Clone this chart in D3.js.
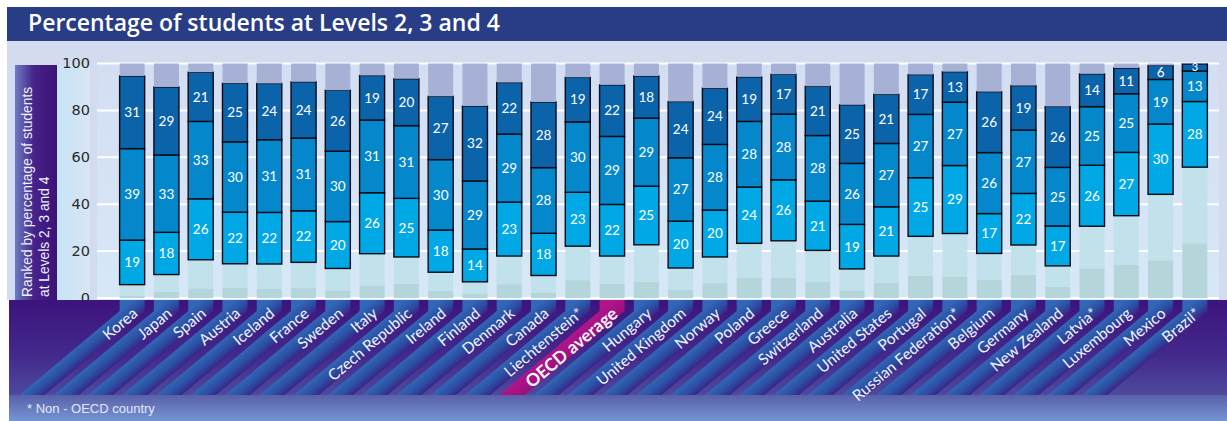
<!DOCTYPE html>
<html>
<head>
<meta charset="utf-8">
<script src="https://cdn.jsdelivr.net/npm/d3@7"></script>
<style>
  html, body { margin: 0; padding: 0; background: #ffffff; }
  svg { display: block; }
</style>
</head>
<body>
<svg id="chart" width="1227" height="421"></svg>
<script>
// Countries ranked by the share of students at reading Levels 2, 3 and 4
const countries = [
  "Korea", "Japan", "Spain", "Austria", "Iceland", "France", "Sweden", "Italy",
  "Czech Republic", "Ireland", "Finland", "Denmark", "Canada", "Liechtenstein*",
  "OECD average", "Hungary", "United Kingdom", "Norway", "Poland", "Greece",
  "Switzerland", "Australia", "United States", "Portugal", "Russian Federation*",
  "Belgium", "Germany", "New Zealand", "Latvia*", "Luxembourg", "Mexico", "Brazil*"
];

// Percentages of students per proficiency level
const belowLevel1 = [0.9, 2.7, 4.1, 4.4, 4.0, 4.2, 3.3, 5.4, 6.1, 3.1, 1.7, 5.9, 2.4, 7.6,
  6.0, 6.9, 3.6, 6.3, 8.7, 8.7, 7.0, 3.3, 6.4, 9.6, 9.0, 7.7, 9.9, 4.8, 12.7, 14.2, 16.1, 23.3];
const level1 = [4.8, 7.3, 12.2, 10.2, 10.5, 11.0, 9.3, 13.5, 11.4, 7.9, 5.2, 12.0, 7.2, 14.5,
  11.9, 15.8, 9.2, 11.2, 14.6, 15.7, 13.3, 9.1, 11.5, 16.7, 18.5, 11.3, 12.7, 8.9, 17.9, 20.9, 28.1, 32.5];
const level2 = [19, 18, 26, 22, 22, 22, 20, 26, 25, 18, 14, 23, 18, 23,
  22, 25, 20, 20, 24, 26, 21, 19, 21, 25, 29, 17, 22, 17, 26, 27, 30, 28];
const level3 = [39, 33, 33, 30, 31, 31, 30, 31, 31, 30, 29, 29, 28, 30,
  29, 29, 27, 28, 28, 28, 28, 26, 27, 27, 27, 26, 27, 25, 25, 25, 19, 13];
const level4 = [31, 29, 21, 25, 24, 24, 26, 19, 20, 27, 32, 22, 28, 19,
  22, 18, 24, 24, 19, 17, 21, 25, 21, 17, 13, 26, 19, 26, 14, 11, 6, 3];
const level5 = [5.3, 10.0, 3.7, 8.4, 8.5, 7.8, 11.4, 5.1, 6.5, 14.0, 18.1, 8.1, 16.4, 5.9,
  9.1, 5.3, 16.2, 10.5, 5.7, 4.6, 9.7, 17.6, 13.1, 4.7, 3.5, 12.0, 9.4, 18.3, 4.4, 1.9, 0.8, 0.2];

const yTicks = [0, 20, 40, 60, 80, 100];
const highlighted = "OECD average";

const levelKeys = ["belowLevel1", "level1", "level2", "level3", "level4", "level5"];
const levelColors = {
  belowLevel1: "#b4d5d9",
  level1: "#c1e2ea",
  level2: "#00a9e6",
  level3: "#0588cb",
  level4: "#0b63aa",
  level5: "#a7b1d5"
};
const boxedKeys = ["level2", "level3", "level4"];

const rows = countries.map((c, i) => ({
  country: c,
  belowLevel1: belowLevel1[i], level1: level1[i],
  level2: level2[i], level3: level3[i], level4: level4[i], level5: level5[i]
}));

const W = 1227, H = 421;
const svg = d3.select("#chart");
const defs = svg.append("defs");

// Frame geometry
const frameLeft = 7, frameRight = W;
const plotTop = 63.5, plotBottom = 298;
const axisBandTop = 300, axisBandBottom = 395;

const y = d3.scaleLinear().domain([0, 100]).range([plotBottom, plotTop]);
const x = d3.scaleBand().domain(countries).range([115, 1212])
  .paddingInner(0.27).paddingOuter(0.135);

// ---- Backgrounds ----
svg.append("rect").attr("x", frameLeft).attr("y", 41).attr("width", frameRight - frameLeft)
  .attr("height", axisBandTop - 41).attr("fill", "#d3dbee");

const plotGrad = defs.append("linearGradient").attr("id", "plotGrad")
  .attr("x1", 0).attr("x2", 0).attr("y1", 0).attr("y2", 1);
plotGrad.append("stop").attr("offset", 0).attr("stop-color", "#d4def2");
plotGrad.append("stop").attr("offset", 1).attr("stop-color", "#d6e8f8");
svg.append("rect").attr("x", 97).attr("y", plotTop).attr("width", 1219 - 97)
  .attr("height", axisBandTop - plotTop).attr("fill", "url(#plotGrad)");

// Title bar
svg.append("rect").attr("x", frameLeft).attr("y", 7).attr("width", frameRight - frameLeft)
  .attr("height", 34).attr("fill", "#283d86");
const title = svg.append("text").attr("x", 28).attr("y", 31)
  .attr("font-family", "'Open Sans', 'Liberation Sans', sans-serif")
  .attr("font-weight", 600).attr("font-size", 20).attr("fill", "#ffffff")
  .text("Percentage of students at Levels 2, 3 and 4");
const titleLen = title.node().getComputedTextLength();
if (titleLen > 0) title.attr("font-size", Math.min(23, 20 * 485 / titleLen));

// Axis title panel
const panelGrad = defs.append("linearGradient").attr("id", "panelGrad")
  .attr("x1", 0).attr("x2", 1).attr("y1", 0).attr("y2", 0);
panelGrad.append("stop").attr("offset", 0).attr("stop-color", "#6c7cc0");
panelGrad.append("stop").attr("offset", 0.45).attr("stop-color", "#46228a");
panelGrad.append("stop").attr("offset", 1).attr("stop-color", "#3c1276");
svg.append("rect").attr("x", 15).attr("y", 65).attr("width", 42).attr("height", 236)
  .attr("fill", "url(#panelGrad)");

const stripGrad = defs.append("linearGradient").attr("id", "stripGrad")
  .attr("x1", 0).attr("x2", 1).attr("y1", 0).attr("y2", 0);
stripGrad.append("stop").attr("offset", 0).attr("stop-color", "#c6e4f8");
stripGrad.append("stop").attr("offset", 1).attr("stop-color", "#d8e5f4");
svg.append("rect").attr("x", 57).attr("y", 65).attr("width", 33).attr("height", 236)
  .attr("fill", "url(#stripGrad)");

const axisTitle = svg.append("text")
  .attr("transform", "translate(32,297) rotate(-90)")
  .attr("font-family", "'Liberation Sans', Arial, sans-serif")
  .attr("font-size", 13.8).attr("fill", "#eef0fa");
axisTitle.append("tspan").attr("x", 0).attr("y", 0).text("Ranked by percentage of students");
axisTitle.append("tspan").attr("x", 0).attr("y", 17).text("at Levels 2, 3 and 4");

// ---- Y axis: gridlines and tick labels ----
const yAxis = d3.axisLeft(y).tickValues(yTicks).tickSize(0).tickPadding(0);
const yAxisG = svg.append("g").attr("transform", "translate(90,0)").call(yAxis);
yAxisG.select(".domain").remove();
yAxisG.selectAll("text")
  .attr("font-family", "'DejaVu Sans', Verdana, sans-serif")
  .attr("font-size", 14.5).attr("fill", "#2a2a2a").attr("dy", "0.3em");

svg.append("g").selectAll("line").data(yTicks).join("line")
  .attr("x1", 97).attr("x2", 1219)
  .attr("y1", d => y(d)).attr("y2", d => y(d))
  .attr("stroke", "#ffffff").attr("stroke-width", 2);

// ---- Stacked bars ----
const series = d3.stack().keys(levelKeys)(rows);
const bw = x.bandwidth();

const layers = svg.append("g").selectAll("g").data(series).join("g")
  .attr("fill", d => levelColors[d.key]);

layers.selectAll("rect").data(d => d.map(v => ({ key: d.key, v }))).join("rect")
  .attr("x", d => x(d.v.data.country))
  .attr("width", bw)
  .attr("y", d => d.key === "level5" ? y(100) : y(d.v[1]))
  .attr("height", d => d.key === "level5" ? y(d.v[0]) - y(100) : y(d.v[0]) - y(d.v[1]))
  .attr("stroke", d => boxedKeys.includes(d.key) ? "#0a0a14" : "none")
  .attr("stroke-width", 1.4);

// Value labels for levels 2, 3 and 4
const labelG = svg.append("g")
  .attr("font-family", "Lato, 'Open Sans', sans-serif")
  .attr("font-size", 13.5).attr("fill", "#ffffff").attr("text-anchor", "middle");
series.filter(s => boxedKeys.includes(s.key)).forEach(s => {
  labelG.selectAll(null).data(s).join("text")
    .attr("x", d => x(d.data.country) + bw / 2)
    .attr("y", d => (y(d[0]) + y(d[1])) / 2)
    .attr("dy", "0.36em")
    .attr("font-size", d => (d[1] - d[0]) < 5 ? 11 : 13.5)
    .text(d => d.data[s.key]);
});

// ---- Category band with slanted ribbons ----
const bandGrad = defs.append("linearGradient").attr("id", "bandGrad")
  .attr("x1", 0).attr("x2", 0).attr("y1", 0).attr("y2", 1);
bandGrad.append("stop").attr("offset", 0).attr("stop-color", "#3d137c");
bandGrad.append("stop").attr("offset", 0.6).attr("stop-color", "#432a8c");
bandGrad.append("stop").attr("offset", 1).attr("stop-color", "#4d4a9e");
svg.append("rect").attr("x", 9).attr("y", axisBandTop).attr("width", W - 9)
  .attr("height", axisBandBottom - axisBandTop).attr("fill", "url(#bandGrad)");

const footGrad = defs.append("linearGradient").attr("id", "footGrad")
  .attr("x1", 0).attr("x2", 0).attr("y1", 0).attr("y2", 1);
footGrad.append("stop").attr("offset", 0).attr("stop-color", "#5960a8");
footGrad.append("stop").attr("offset", 1).attr("stop-color", "#7595d4");
svg.append("rect").attr("x", 9).attr("y", axisBandBottom).attr("width", W - 9)
  .attr("height", H - axisBandBottom).attr("fill", "url(#footGrad)");

const angle = 40 * Math.PI / 180;
const bendY = 311;
const shift = (axisBandBottom - bendY) / Math.tan(angle);

const ribbons = svg.append("g");
countries.forEach((c, i) => {
  const x0 = x(c), x1 = x0 + bw;
  const wp = bw * Math.sin(angle);
  const g = defs.append("linearGradient").attr("id", "rib" + i)
    .attr("gradientUnits", "userSpaceOnUse")
    .attr("x1", x0).attr("y1", bendY)
    .attr("x2", x0 + Math.sin(angle) * wp).attr("y2", bendY + Math.cos(angle) * wp);
  if (c === highlighted) {
    g.append("stop").attr("offset", 0).attr("stop-color", "#b0158a");
    g.append("stop").attr("offset", 1).attr("stop-color", "#9a0f7c");
  } else {
    g.append("stop").attr("offset", 0).attr("stop-color", "#3266b6");
    g.append("stop").attr("offset", 0.55).attr("stop-color", "#2b4ea2");
    g.append("stop").attr("offset", 1).attr("stop-color", "#3b2488");
  }
  const pts = [
    [x0, axisBandTop], [x1, axisBandTop], [x1, bendY],
    [x1 - shift, axisBandBottom], [x0 - shift, axisBandBottom], [x0, bendY]
  ];
  ribbons.append("path").attr("d", d3.line()(pts) + "Z").attr("fill", `url(#rib${i})`);
});

// Category labels along the ribbons
svg.append("g").selectAll("text").data(countries).join("text")
  .attr("transform", d => `translate(${x(d) + bw / 2 + 3},${bendY}) rotate(-40)`)
  .attr("text-anchor", "end")
  .attr("dy", "0.35em")
  .attr("font-family", "Lato, 'Open Sans', sans-serif")
  .attr("font-size", d => d === highlighted ? 17.5 : 15.5)
  .attr("font-weight", d => d === highlighted ? "bold" : "normal")
  .attr("fill", "#f4f4fc")
  .text(d => d);

// Footnote
svg.append("text").attr("x", 27).attr("y", 413)
  .attr("font-family", "'Liberation Sans', Arial, sans-serif")
  .attr("font-size", 13).attr("fill", "#e6e8f6")
  .text("* Non - OECD country");
</script>
</body>
</html>
